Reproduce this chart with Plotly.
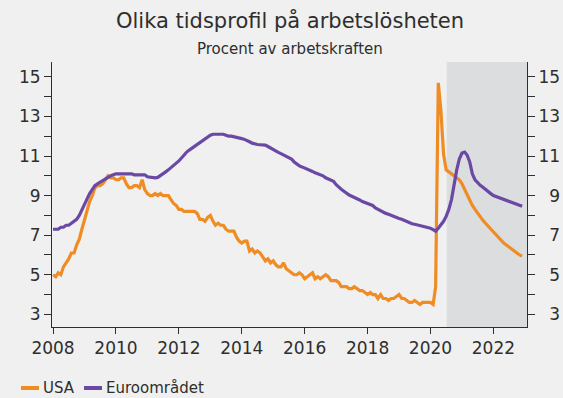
import pandas as pd
import plotly.graph_objects as go

# Monthly unemployment rate, per cent of labour force, Jan 2008 - Dec 2022
months = pd.date_range("2008-01-01", "2022-12-01", freq="MS")

usa = [
    # 2008
    5.0, 4.9, 5.1, 5.0, 5.4, 5.6, 5.8, 6.1, 6.1, 6.5, 6.8, 7.3,
    # 2009
    7.8, 8.3, 8.7, 9.0, 9.4, 9.5, 9.5, 9.6, 9.8, 10.0, 9.9, 9.9,
    # 2010
    9.8, 9.8, 9.9, 9.9, 9.6, 9.4, 9.4, 9.5, 9.5, 9.4, 9.8, 9.3,
    # 2011
    9.1, 9.0, 9.0, 9.1, 9.0, 9.1, 9.0, 9.0, 9.0, 8.8, 8.6, 8.5,
    # 2012
    8.3, 8.3, 8.2, 8.2, 8.2, 8.2, 8.2, 8.1, 7.8, 7.8, 7.7, 7.9,
    # 2013
    8.0, 7.7, 7.5, 7.6, 7.5, 7.5, 7.3, 7.2, 7.2, 7.2, 6.9, 6.7,
    # 2014
    6.6, 6.7, 6.7, 6.2, 6.3, 6.1, 6.2, 6.1, 5.9, 5.7, 5.8, 5.6,
    # 2015
    5.7, 5.5, 5.4, 5.4, 5.6, 5.3, 5.2, 5.1, 5.0, 5.0, 5.1, 5.0,
    # 2016
    4.8, 4.9, 5.0, 5.1, 4.8, 4.9, 4.8, 4.9, 5.0, 4.9, 4.7, 4.7,
    # 2017
    4.7, 4.6, 4.4, 4.4, 4.4, 4.3, 4.3, 4.4, 4.3, 4.2, 4.2, 4.1,
    # 2018
    4.0, 4.1, 4.0, 4.0, 3.8, 4.0, 3.8, 3.8, 3.7, 3.8, 3.8, 3.9,
    # 2019
    4.0, 3.8, 3.8, 3.7, 3.6, 3.6, 3.7, 3.6, 3.5, 3.6, 3.6, 3.6,
    # 2020
    3.6, 3.5, 4.4, 14.7, 13.3, 11.1, 10.3, 10.2, 10.1, 10.0, 9.9, 9.8,
    # 2021
    9.6, 9.3, 9.0, 8.75, 8.5, 8.3, 8.1, 7.9, 7.75, 7.6, 7.45, 7.3,
    # 2022
    7.15, 7.0, 6.85, 6.75, 6.6, 6.5, 6.4, 6.3, 6.2, 6.1, 6.0, 5.95,
]

euro = [
    # 2008
    7.3, 7.3, 7.3, 7.4, 7.4, 7.5, 7.5, 7.6, 7.7, 7.8, 8.0, 8.3,
    # 2009
    8.6, 8.85, 9.1, 9.3, 9.5, 9.6, 9.68, 9.75, 9.85, 9.95, 10.0, 10.05,
    # 2010
    10.1, 10.1, 10.1, 10.1, 10.12, 10.12, 10.1, 10.05, 10.05, 10.05, 10.05, 10.05,
    # 2011
    9.95, 9.92, 9.9, 9.9, 9.92, 10.0, 10.1, 10.2, 10.3, 10.4, 10.5, 10.6,
    # 2012
    10.75, 10.9, 11.05, 11.2, 11.3, 11.4, 11.5, 11.55, 11.65, 11.75, 11.85, 11.95,
    # 2013
    12.05, 12.1, 12.1, 12.12, 12.12, 12.1, 12.05, 12.0, 12.0, 11.98, 11.95, 11.92,
    # 2014
    11.88, 11.84, 11.8, 11.72, 11.65, 11.6, 11.58, 11.57, 11.56, 11.55, 11.48, 11.4,
    # 2015
    11.3, 11.22, 11.18, 11.12, 11.05, 11.0, 10.95, 10.85, 10.7, 10.6, 10.5, 10.45,
    # 2016
    10.4, 10.35, 10.3, 10.22, 10.15, 10.1, 10.05, 10.0, 9.9, 9.85, 9.8, 9.72,
    # 2017
    9.55, 9.4, 9.32, 9.22, 9.12, 9.03, 8.97, 8.92, 8.86, 8.78, 8.7, 8.65,
    # 2018
    8.6, 8.55, 8.5, 8.38, 8.3, 8.25, 8.18, 8.1, 8.06, 8.0, 7.95, 7.9,
    # 2019
    7.84, 7.8, 7.74, 7.68, 7.62, 7.58, 7.55, 7.52, 7.48, 7.45, 7.42, 7.4,
    # 2020
    7.35, 7.28, 7.2, 7.35, 7.5, 7.7, 7.95, 8.3, 8.8, 9.6, 10.3, 10.85,
    # 2021
    11.15, 11.2, 11.05, 10.7, 10.1, 9.8, 9.65, 9.52, 9.42, 9.3, 9.2, 9.1,
    # 2022
    9.0, 8.95, 8.9, 8.84, 8.78, 8.73, 8.68, 8.64, 8.6, 8.55, 8.5, 8.46,
]

y_ticks = [3, 5, 7, 9, 11, 13, 15]
forecast_start = "2020-07-08"

ORANGE = "#F08C24"
PURPLE = "#6A48A3"
BG = "#EFF0EF"
SHADE = "#DCDDDF"
TXT = "#2E2E2E"
FONT = "DejaVu Sans"

fig = go.Figure()
fig.add_trace(go.Scatter(x=months, y=usa, name="USA", mode="lines",
                         line=dict(color=ORANGE, width=3.2), showlegend=False))
fig.add_trace(go.Scatter(x=months, y=euro, name="Euroområdet", mode="lines",
                         line=dict(color=PURPLE, width=3.2), showlegend=False))

# forecast period shading
fig.add_vrect(x0=forecast_start, x1="2023-01-26", fillcolor=SHADE, line_width=0,
              layer="below")

yrange = [2.36, 15.75]
common_y = dict(range=yrange, tickvals=y_ticks, ticks="outside", ticklen=7,
                tickcolor=TXT, tickwidth=1, showline=True, linecolor=TXT, linewidth=1,
                showgrid=False, zeroline=False, automargin=False,
                tickfont=dict(size=17, color=TXT, family=FONT),
                minor=dict(dtick=1, tick0=3, ticks="outside", ticklen=7,
                           tickcolor=TXT, tickwidth=1, showgrid=False))

fig.update_layout(
    width=563, height=398,
    margin=dict(l=52, r=36, t=62, b=71, autoexpand=False),
    paper_bgcolor=BG, plot_bgcolor=BG,
    font=dict(family=FONT, color=TXT),
    xaxis=dict(type="date", range=["2007-12-20", "2023-01-26"],
               tick0="2008-01-01", dtick="M24", tickformat="%Y",
               ticks="outside", ticklen=6, tickcolor=TXT, showline=True,
               linecolor=TXT, linewidth=1, showgrid=False, zeroline=False,
               automargin=False,
               tickfont=dict(size=17, color=TXT, family=FONT)),
    yaxis=dict(**common_y, side="left", ticktext=[str(v) for v in y_ticks]),
    yaxis2=dict(**common_y, side="right", overlaying="y", matches="y",
                ticktext=[(str(v) if v >= 10 else "\u2007" + str(v)) for v in y_ticks]),
    showlegend=False,
)

# invisible carrier so the right-hand axis is drawn
fig.add_trace(go.Scatter(x=[months[0]], y=[usa[0]], yaxis="y2", mode="lines",
                         line=dict(width=0), hoverinfo="skip", showlegend=False))

# title and subtitle
fig.add_annotation(text="Olika tidsprofil på arbetslösheten", xref="paper", yref="paper",
                   x=0.5, y=1, yshift=42, xanchor="center", yanchor="middle",
                   showarrow=False, font=dict(size=21, color=TXT, family=FONT))
fig.add_annotation(text="Procent av arbetskraften", xref="paper", yref="paper",
                   x=0.5, y=1, yshift=13, xanchor="center", yanchor="middle",
                   showarrow=False, font=dict(size=15, color=TXT, family=FONT))

# legend below the plot
legend_items = [("USA", ORANGE, 21), ("Euroområdet", PURPLE, 84)]
for label, color, px in legend_items:
    x0 = (px - 52) / (563 - 52 - 36)
    x1 = (px + 18 - 52) / (563 - 52 - 36)
    ypos = -(388 - 327) / (327 - 62)
    fig.add_shape(type="line", xref="paper", yref="paper", x0=x0, x1=x1, y0=ypos, y1=ypos,
                  line=dict(color=color, width=4))
    fig.add_annotation(text=label, xref="paper", yref="paper", x=x1, y=ypos,
                       xshift=2, xanchor="left", yanchor="middle", showarrow=False,
                       font=dict(size=15, color=TXT, family=FONT))

fig.write_html("out.html")
